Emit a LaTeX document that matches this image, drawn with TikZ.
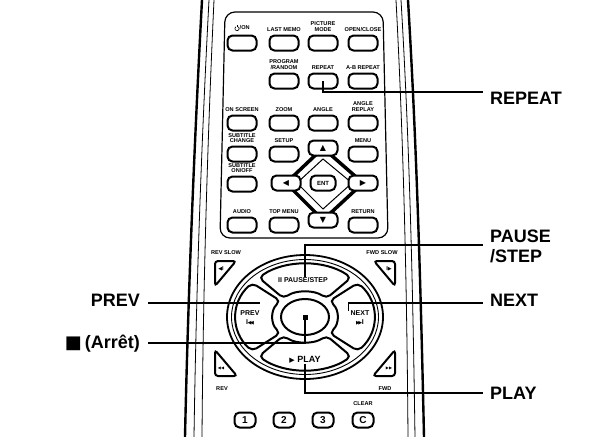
\documentclass[tikz,border=0pt]{standalone}
\usepackage{fontspec}
\usetikzlibrary{positioning}
\setmainfont{Liberation Sans}
\newfontfamily\sym{DejaVu Sans}
\newcommand\pwr{\tikz[baseline=0pt,x=1pt,y=1pt,line width=0.6pt]{\draw (-1.6,2.8) arc[start angle=120,end angle=420,radius=2.1]; \draw (0,2.2)--(0,4.6);}}
\newcommand\prevsym{I\kern-0.3pt{\sym\fontsize{5}{5}\selectfont◀\kern-1.5pt◀}}
\newcommand\nextsym{{\sym\fontsize{5}{5}\selectfont▶\kern-1.5pt▶}\kern-0.3pt I}
\begin{document}
\begin{tikzpicture}[x=1pt,y=-1pt,
  btn/.style={draw,line width=2pt,fill=white,rounded corners=5pt,minimum width=29pt,minimum height=15pt,inner sep=0pt},
  lab/.style={font=\fontsize{5.6}{5.4}\selectfont\bfseries,align=center,inner sep=0pt},
  big/.style={font=\fontsize{18}{20}\selectfont\bfseries,inner sep=0pt,align=left},
  call/.style={line width=1.4pt},
  body/.style={line width=2.4pt}]
\useasboundingbox (0,0) rectangle (606,437);
% body
\draw[body] (202,0) .. controls (194,150) and (188,300) .. (185,437);
\draw[line width=0.8pt] (209,0) .. controls (201,150) and (196,300) .. (194,437);
\draw[line width=0.8pt] (214,0) .. controls (207,150) and (203,300) .. (202,437);
\draw[body] (408,0) .. controls (417,150) and (421,300) .. (424,437);
\draw[line width=0.8pt] (401,0) .. controls (410,150) and (413,300) .. (415,437);
\draw[line width=0.8pt] (396,0) .. controls (404,150) and (407,300) .. (408,437);
% panel
\draw[line width=1.2pt,rounded corners=10pt] (225,12) -- (383,12) -- (388,238) -- (220,238) -- cycle;
% diamond
\draw[line width=3.5pt,fill=white] (323,148) -- (363,183) -- (323,220) -- (286,183) -- cycle;
\draw[line width=1pt] (323,159) -- (352,183) -- (323,209) -- (297,183) -- cycle;
% row1
\node[btn] (on) at (242,43) {}; \node[lab,above=3pt of on] (lon) {\pwr/ON};
\node[btn] (lm) at (284,43) {}; \node[lab,above=3pt of lm] (llm) {LAST MEMO};
\node[btn] (pm) at (323,43) {}; \node[lab,above=3pt of pm] (lpm) {PICTURE\\MODE};
\node[btn] (oc) at (363,43) {}; \node[lab,above=3pt of oc] (loc) {OPEN/CLOSE};
% row2
\node[btn] (pr) at (284,81) {}; \node[lab,above=3pt of pr] (lpr) {PROGRAM\\/RANDOM};
\node[btn] (rp) at (323,81) {}; \node[lab,above=3pt of rp] (lrp) {REPEAT};
\node[btn] (ab) at (363,81) {}; \node[lab,above=3pt of ab] (lab1) {A-B REPEAT};
% row3
\node[btn] (os) at (242,123) {}; \node[lab,above=3pt of os] (los) {ON SCREEN};
\node[btn] (zm) at (284,123) {}; \node[lab,above=3pt of zm] (lzm) {ZOOM};
\node[btn] (an) at (323,123) {}; \node[lab,above=3pt of an] (lan) {ANGLE};
\node[btn] (ar) at (363,123) {}; \node[lab,above=3pt of ar] (lar) {ANGLE\\REPLAY};
% row4
\node[btn] (sc) at (242,154) {}; \node[lab,above=2.5pt of sc] (lsc) {SUBTITLE\\CHANGE};
\node[btn] (su) at (284,154) {}; \node[lab,above=3pt of su] (lsu) {SETUP};
\node[btn] (up) at (323,148) {\sym\fontsize{8}{8}\selectfont ▲};
\node[btn] (mn) at (363,154) {}; \node[lab,above=3pt of mn] (lmn) {MENU};
% row5
\node[btn] (so) at (242,184) {}; \node[lab,above=2.5pt of so] (lso) {SUBTITLE\\ON/OFF};
\node[btn] (lf) at (286,183) {\sym\fontsize{8}{8}\selectfont ◀};
\node[btn,minimum width=25pt] (en) at (323,183) {\fontsize{6}{6}\selectfont\bfseries ENT};
\node[btn] (rt) at (363,183) {\sym\fontsize{8}{8}\selectfont ▶};
% row6
\node[btn] (au) at (242,225) {}; \node[lab,above=3pt of au] (lau) {AUDIO};
\node[btn] (tm) at (284,225) {}; \node[lab,above=3pt of tm] (ltm) {TOP MENU};
\node[btn] (dn) at (323,220) {\sym\fontsize{8}{8}\selectfont ▼};
\node[btn] (re) at (363,225) {}; \node[lab,above=3pt of re] (lre) {RETURN};
% slow/rev/fwd
\node[lab] (lrs) at (226,253) {REV SLOW};
\draw[line width=2pt,rounded corners=3pt,fill=white] (215,261) -- (236,261) -- (215,286) -- cycle;
\node[lab] (irs) at (221,269) {{\sym\fontsize{5}{5}\selectfont◀}I};
\node[lab] (lfs) at (382,253) {FWD SLOW};
\draw[line width=2pt,rounded corners=3pt,fill=white] (374,261) -- (395,261) -- (395,286) -- cycle;
\node[lab] (ifs) at (389,269) {I{\sym\fontsize{5}{5}\selectfont▶}};
\draw[line width=2pt,rounded corners=3pt,fill=white] (215,350) -- (215,376) -- (237,376) -- cycle;
\node[lab] (irv) at (221,368) {{\sym\fontsize{4}{4}\selectfont◀◀}};
\node[lab] (lrv) at (222,389) {REV};
\draw[line width=2pt,rounded corners=3pt,fill=white] (395,350) -- (395,376) -- (373,376) -- cycle;
\node[lab] (ifw) at (389,368) {{\sym\fontsize{4}{4}\selectfont▶▶}};
\node[lab] (lfw) at (385,389) {FWD};
% ring
\draw[line width=1.8pt] (305,317) ellipse [x radius=78, y radius=62];
\draw[line width=0.9pt] (305,317) ellipse [x radius=73.5, y radius=57.5];
\foreach \a/\b in {-132/-48,-40/40,48/132,140/220}{
 \draw[line width=2pt,fill=white,rounded corners=5pt] ([shift={(305,317)}]\a:69 and 53) arc[start angle=\a,end angle=\b,x radius=69,y radius=53] -- ([shift={(305,317)}]\b:32 and 25) arc[start angle=\b,end angle=\a,x radius=32,y radius=25] -- cycle;}
\draw[line width=2pt,fill=white] (305,317) ellipse [x radius=24, y radius=18];
\node[inner sep=0pt,fill=black,minimum size=5pt] (stop) at (305,317) {};
\node[lab,font=\fontsize{7}{7}\selectfont\bfseries] (tps) at (303,280) {II PAUSE/STEP};
\node[lab,font=\fontsize{7}{9}\selectfont\bfseries] (tpv) at (250,318) {PREV\\\prevsym};
\node[lab,font=\fontsize{7}{9}\selectfont\bfseries] (tnx) at (360,318) {NEXT\\\nextsym};
\node[lab,font=\fontsize{9}{9}\selectfont\bfseries] (tpl) at (305,360) {{\sym\fontsize{7}{7}\selectfont▶} PLAY};
% number buttons
\node[btn,minimum width=21pt,minimum height=15pt] (n1) at (245,420) {\fontsize{10}{10}\selectfont\bfseries 1};
\node[btn,minimum width=21pt,minimum height=15pt] (n2) at (284,420) {\fontsize{10}{10}\selectfont\bfseries 2};
\node[btn,minimum width=21pt,minimum height=15pt] (n3) at (323,420) {\fontsize{10}{10}\selectfont\bfseries 3};
\node[btn,minimum width=21pt,minimum height=15pt] (nc) at (363,420) {\fontsize{10}{10}\selectfont\bfseries C};
\node[lab] (lcl) at (363,404) {CLEAR};
% callouts
\node[big,anchor=west] (cR) at (490,98) {REPEAT};
\node[big,anchor=west] (cP) at (490,246) {PAUSE\\/STEP};
\node[big,anchor=west] (cN) at (490,300) {NEXT};
\node[big,anchor=west] (cPl) at (490,393) {PLAY};
\node[big,anchor=east] (cV) at (140,300) {PREV};
\node[big,anchor=east] (cS) at (140,344) {{\sym ■}\,(Arrêt)};
\coordinate (eR) at (483,92);
\coordinate (eP) at (483,245);
\coordinate (eN) at (483,303);
\coordinate (ePl) at (483,393);
\coordinate (eV) at (148,303);
\coordinate (eS) at (148,343);
\draw[call] (rp.center) |- (eR);
\draw[call] (tps.north) ++(2,0) coordinate (pp) |- (eP);
\draw[call] (tnx.north west) ++(-2,0) coordinate (nn) -- (nn|-eN) -- (eN);
\draw[call] (tpl.south) |- (ePl);
\draw[call] (eV) -- (tpv.north east|-eV);
\draw[call] (eS) -| ([yshift=3pt]stop.south);
\end{tikzpicture}
\end{document}
